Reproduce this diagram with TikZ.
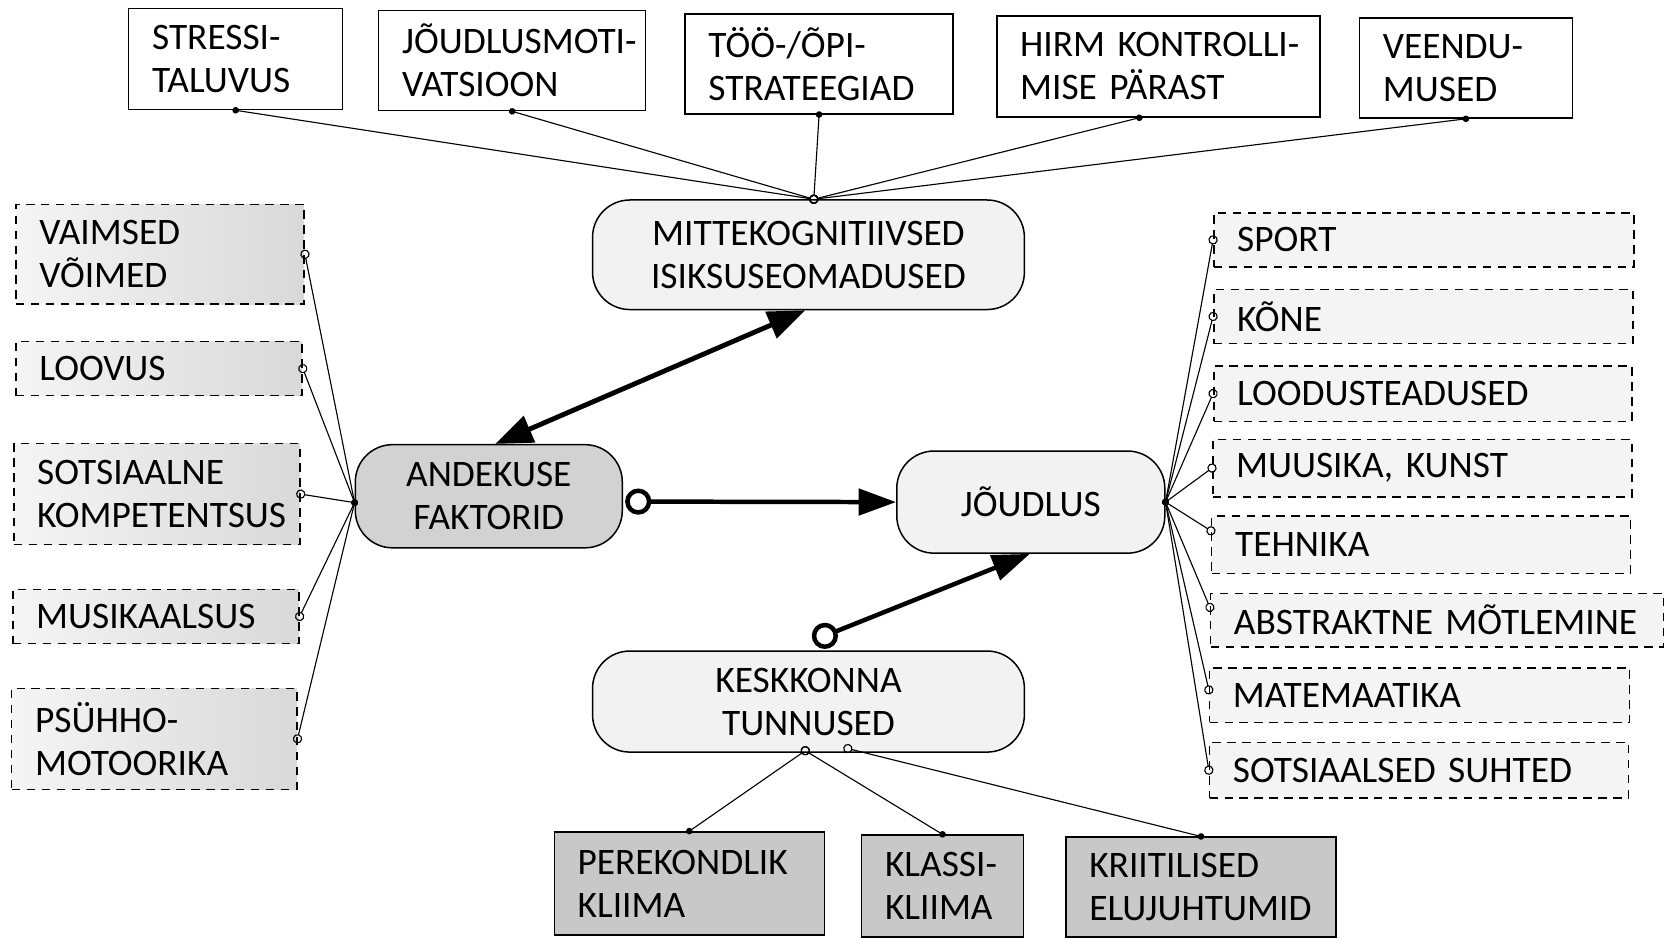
\documentclass[tikz,border=0pt]{standalone}
\usepackage{fontspec}
\setmainfont{Carlito}
\usetikzlibrary{arrows.meta,calc}
\newcommand\mybox[7]{%
  \pgfmathsetmacro\myBW{(#4-#2)*0.569055}%
  \pgfmathsetmacro\myBH{(#5-#3)*0.569055}%
  \pgfmathsetmacro\myBT{\myBW-25}%
  \node[#6, minimum width=\myBW pt, minimum height=\myBH pt] (#1) at ({(#2+#4)/2},{(#3+#5)/2}) {#7};}
\begin{document}
\begin{tikzpicture}[x=0.02cm,y=-0.02cm,
  every node/.style={font=\fontsize{20}{23}\selectfont, inner sep=0pt},
  solidbox/.style={draw, line width=0.8pt, fill=white, text width=\myBT pt, inner xsep=12.5pt, align=left},
  dashbox/.style={draw, dash pattern=on 4.5pt off 3.5pt, line width=0.8pt, fill=gray!9, text width=\myBT pt, inner xsep=12.5pt, align=left},
  grad/.style={left color=gray!8, right color=gray!30},
  darkbox/.style={solidbox, fill=gray!43},
  roundbox/.style={draw, line width=0.8pt, rounded corners=0.7cm, fill=gray!10, align=center},
  link/.style={line width=0.6pt, {Circle[length=3.5pt]}-{Circle[open,length=5pt]}, shorten <=-1.75pt, shorten >=-2.5pt},
  dbl/.style={line width=2.6pt, {Triangle[length=20pt,width=15pt]}-{Triangle[length=20pt,width=15pt]}},
  ringarrow/.style={line width=2.4pt, {Circle[open,length=14pt]}-{Triangle[length=20pt,width=14pt]}}
]
\useasboundingbox (0,0) rectangle (1568,881);
% top boxes
\mybox{st}{121}{8}{322}{103}{solidbox}{\mbox{STRESSI-}\\\mbox{TALUVUS}}
\mybox{jm}{356}{10}{607}{104}{solidbox}{\mbox{JÕUDLUSMOTI-}\\\mbox{VATSIOON}}
\mybox{too}{644}{13}{896}{107}{solidbox}{\mbox{TÖÖ-/ÕPI-}\\\mbox{STRATEEGIAD}}
\mybox{hirm}{937}{15}{1241}{110}{solidbox}{\mbox{HIRM KONTROLLI-}\\\mbox{MISE PÄRAST}}
\mybox{ve}{1278}{17}{1478}{111}{solidbox}{\mbox{VEENDU-}\\\mbox{MUSED}}
% central nodes
\mybox{mk}{557}{188}{963}{291}{roundbox}{MITTEKOGNITIIVSED\\ISIKSUSEOMADUSED}
\mybox{af}{334}{418}{585}{515}{roundbox,fill=gray!35}{ANDEKUSE\\FAKTORID}
\mybox{jd}{843}{424}{1095}{520}{roundbox}{JÕUDLUS}
\mybox{kt}{557}{612}{963}{707}{roundbox}{KESKKONNA\\TUNNUSED}
% left boxes
\mybox{vv}{15}{192}{286}{286}{dashbox,grad}{\mbox{VAIMSED}\\\mbox{VÕIMED}}
\mybox{lo}{15}{321}{284}{372}{dashbox,grad}{\mbox{LOOVUS}}
\mybox{sk}{13}{417}{282}{512}{dashbox,grad}{\mbox{SOTSIAALNE}\\\mbox{KOMPETENTSUS}}
\mybox{mu}{12}{554}{281}{605}{dashbox,grad}{\mbox{MUSIKAALSUS}}
\mybox{pm}{11}{647}{279}{742}{dashbox,grad}{\mbox{PSÜHHO-}\\\mbox{MOTOORIKA}}
% right boxes
\mybox{sp}{1141}{200}{1536}{251}{dashbox}{\mbox{SPORT}}
\mybox{ko}{1141}{272}{1535}{323}{dashbox}{\mbox{KÕNE}}
\mybox{ld}{1141}{344}{1534}{396}{dashbox}{\mbox{LOODUSTEADUSED}}
\mybox{mk2}{1140}{413}{1534}{467}{dashbox}{\mbox{MUUSIKA, KUNST}}
\mybox{te}{1139}{485}{1533}{539}{dashbox}{\mbox{TEHNIKA}}
\mybox{ab}{1138}{558}{1564}{608}{dashbox}{\mbox{ABSTRAKTNE MÕTLEMINE}}
\mybox{ma}{1137}{628}{1532}{679}{dashbox}{\mbox{MATEMAATIKA}}
\mybox{ss}{1137}{698}{1531}{750}{dashbox}{\mbox{SOTSIAALSED SUHTED}}
% bottom boxes
\mybox{pk}{521}{782}{775}{879}{darkbox}{\mbox{PEREKONDLIK}\\\mbox{KLIIMA}}
\mybox{kk}{810}{785}{962}{881}{darkbox}{\mbox{KLASSI-}\\\mbox{KLIIMA}}
\mybox{ke}{1002}{787}{1256}{881}{darkbox}{\mbox{KRIITILISED}\\\mbox{ELUJUHTUMID}}
% hubs
\coordinate (hubT) at ([shift={(5,0)}]mk.north);
\coordinate (hubL) at ([shift={(0,6)}]af.west);
\coordinate (hubR) at (jd.east);
\coordinate (hubB1) at ([shift={(-3,-2)}]kt.south);
\coordinate (hubB2) at ([shift={(37,-4)}]kt.south);
% top links
\foreach \b in {st,jm,too,ve} \draw[link] (\b.south) -- (hubT);
\draw[link] ([shift={(-18,0)}]hirm.south) -- (hubT);
% left links
\foreach \b in {vv,lo,sk,mu,pm} \draw[link] (hubL) -- (\b.east);
% right links
\foreach \b in {sp,ko,ld,mk2,ss} \draw[link] (hubR) -- (\b.west);
\draw[link] (hubR) -- ([shift={(0,-13)}]te.west);
\draw[link] (hubR) -- ([shift={(0,-12)}]ab.west);
\draw[link] (hubR) -- ([shift={(0,-5)}]ma.west);
% bottom links
\draw[link] (pk.north) -- (hubB1);
\draw[link] (kk.north) -- (hubB1);
\draw[link] (ke.north) -- (hubB2);
% thick arrows
\draw[dbl] ([shift={(6,0)}]af.north) -- ([shift={(-3,0)}]mk.south);
\draw[ringarrow] ([shift={(2,5)}]af.east) -- (jd.west);
\draw[ringarrow] ([shift={(4,-9)}]kt.north) -- ([shift={(-1,0)}]jd.south);
\end{tikzpicture}
\end{document}
